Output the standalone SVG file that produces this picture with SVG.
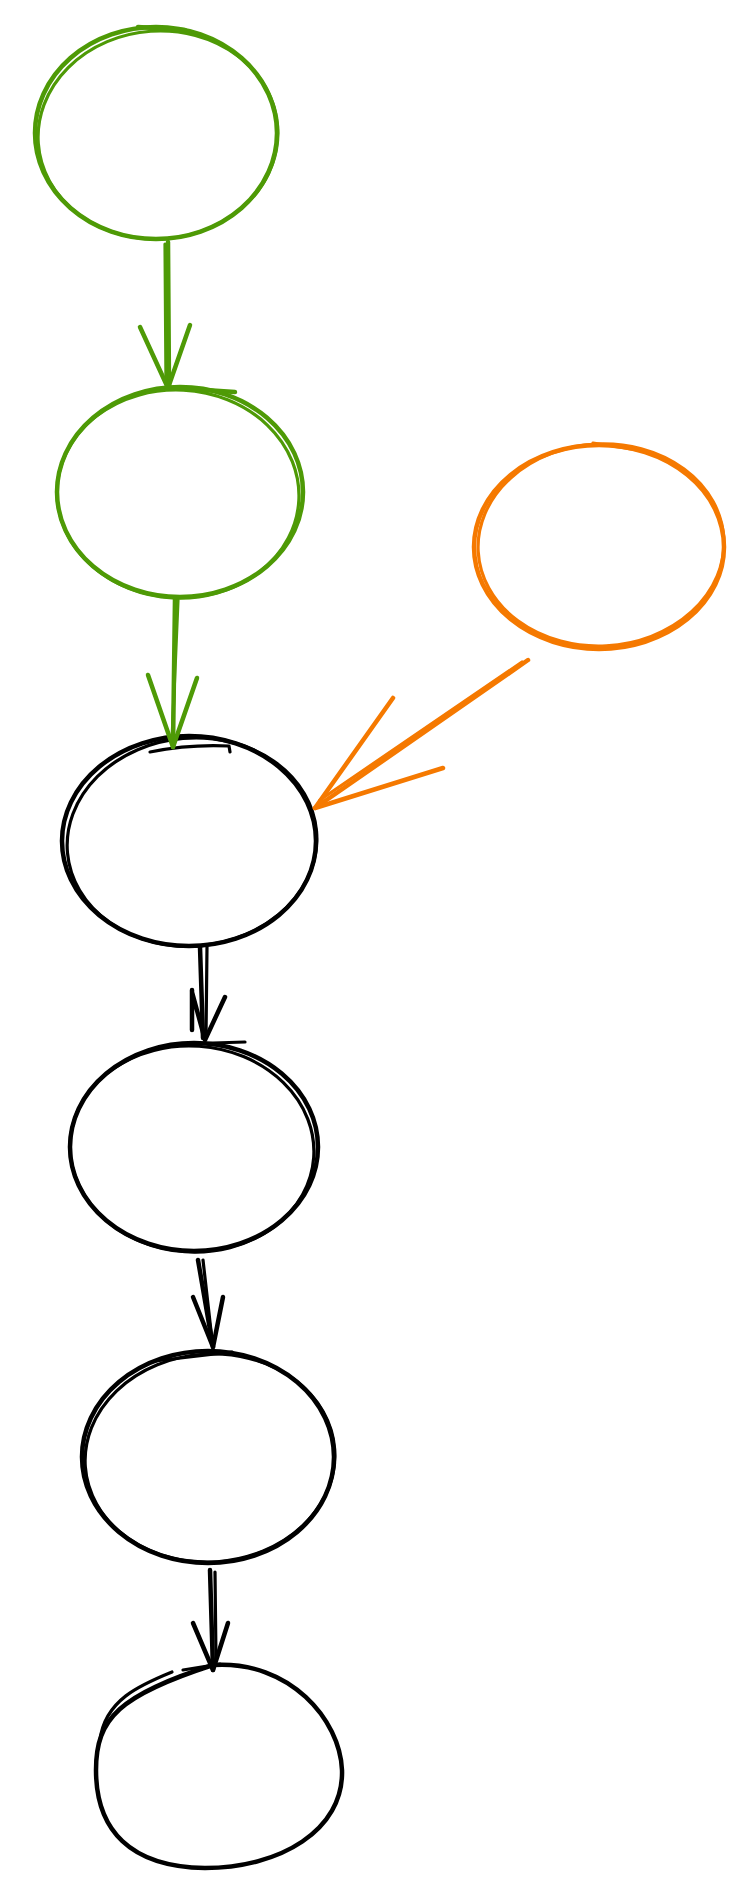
<svg xmlns="http://www.w3.org/2000/svg" width="743" height="1887" viewBox="0 0 743 1887">
<style>
.g{fill:none;stroke:#4e9a06;stroke-linecap:round;stroke-linejoin:round}
.o{fill:none;stroke:#f57900;stroke-linecap:round;stroke-linejoin:round}
.k{fill:none;stroke:#000;stroke-linecap:round;stroke-linejoin:round}
.a{stroke-width:4.5}
.b{stroke-width:3.2}
</style>
<rect width="743" height="1887" fill="#fff"/>
<g id="n1">
<ellipse class="g a" cx="156" cy="133" rx="121" ry="106"/>
<ellipse class="g b" cx="158" cy="135" rx="120" ry="104" transform="rotate(-4 158 135)"/>
<path class="g a" d="M138 27 L185 30"/>
</g>
<g id="n2">
<ellipse class="g a" cx="180" cy="492" rx="123" ry="105"/>
<ellipse class="g b" cx="178" cy="494" rx="121" ry="104" transform="rotate(3 178 494)"/>
<path class="g a" d="M175 388 L235 392"/>
</g>
<g id="n3">
<ellipse class="o a" cx="599" cy="547" rx="125" ry="102"/>
<ellipse class="o b" cx="601" cy="545" rx="123" ry="101" transform="rotate(-3 601 545)"/>
<path class="o b" d="M593 443 L650 452"/>
</g>
<g id="n4">
<ellipse class="k a" cx="189" cy="841" rx="127" ry="105"/>
<ellipse class="k b" cx="192" cy="842" rx="125" ry="104" transform="rotate(-5 192 842)"/>
<path class="k b" d="M150 752 Q190 744 229 746 L230 752"/>
</g>
<g id="n5">
<ellipse class="k a" cx="194" cy="1147" rx="124" ry="104"/>
<ellipse class="k b" cx="192" cy="1149" rx="122" ry="103" transform="rotate(4 192 1149)"/>
<path class="k b" d="M180 1044 L245 1042"/>
</g>
<g id="n6">
<ellipse class="k a" cx="208" cy="1457" rx="126" ry="106"/>
<ellipse class="k b" cx="210" cy="1458" rx="125" ry="104" transform="rotate(-4 210 1458)"/>
<path class="k b" d="M155 1361 L232 1352"/>
</g>
<g id="n7">
<path class="k a" d="M213 1665 C290 1660 340 1720 342 1770 C344 1830 280 1868 205 1868 C130 1867 96 1830 96 1770 C96 1718 120 1695 213 1665 Z"/>
<path class="k b" d="M172 1672 C140 1685 105 1700 100 1740"/>
<path class="k b" d="M183 1670 L220 1664"/>
</g>
<g id="connectors">
<path class="g a" d="M168 242 L169 388"/>
<path class="g b" d="M165 244 L166 384"/>
<path class="g a" d="M140 327 L168 388 L190 325"/>
<path class="g a" d="M175 598 L173 747"/>
<path class="g b" d="M178 600 L172 740"/>
<path class="g a" d="M148 675 L173 747 L197 678"/>
<path class="o a" d="M528 660 L315 808"/>
<path class="o b" d="M522 662 L320 800"/>
<path class="o a" d="M393 698 L315 808 L443 768"/>
<path class="k a" d="M200 947 L203 1038"/>
<path class="k b" d="M207 947 L206 1036"/>
<path class="k a" d="M192 990 L192 1030 M192 992 L205 1040 L225 997"/>
<path class="k a" d="M198 1260 L213 1347"/>
<path class="k b" d="M203 1260 L212 1340"/>
<path class="k a" d="M193 1297 L213 1347 L223 1297"/>
<path class="k a" d="M210 1570 L213 1670"/>
<path class="k b" d="M215 1572 L216 1660"/>
<path class="k a" d="M193 1623 L213 1670 L228 1623"/>
</g>
</svg>
